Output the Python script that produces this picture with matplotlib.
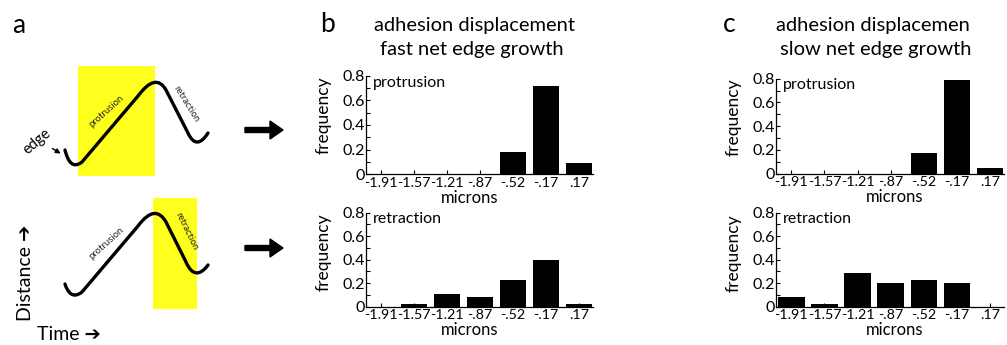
import matplotlib
matplotlib.use("Agg")
import matplotlib.pyplot as plt
from matplotlib.path import Path
from matplotlib.patches import PathPatch, Rectangle, FancyArrow

plt.rcParams['font.family'] = ['Lato', 'DejaVu Sans']

# histogram data
bins = ['-1.91', '-1.57', '-1.21', '-.87', '-.52', '-.17', '.17']
fast_protrusion = [0, 0, 0, 0, 0.18, 0.72, 0.09]
fast_retraction = [0, 0.025, 0.11, 0.083, 0.225, 0.395, 0.023]
slow_protrusion = [0, 0, 0, 0, 0.175, 0.79, 0.045]
slow_retraction = [0.085, 0.026, 0.284, 0.2, 0.23, 0.2, 0]

W, H = 1007, 345
fig = plt.figure(figsize=(W / 100, H / 100), dpi=100)


def px_axes(left, top, right, bottom):
    return fig.add_axes([left / W, (H - bottom) / H, (right - left) / W, (bottom - top) / H])


# overlay in pixel coordinates for the schematic and titles
ax0 = fig.add_axes([0, 0, 1, 1])
ax0.set_xlim(0, W)
ax0.set_ylim(H, 0)
ax0.axis('off')

yellow = '#ffff1e'
ax0.add_patch(Rectangle((78, 66), 77, 110, color=yellow, lw=0))
ax0.add_patch(Rectangle((153, 198), 44, 111, color=yellow, lw=0))

codes = [Path.MOVETO, Path.CURVE4, Path.CURVE4, Path.CURVE4, Path.LINETO,
         Path.CURVE4, Path.CURVE4, Path.CURVE4, Path.LINETO,
         Path.CURVE4, Path.CURVE4, Path.CURVE4]
top_curve = [(65, 150), (68, 162), (73, 169), (82, 162), (138, 96),
             (150, 80), (159, 78), (166, 90), (188, 133),
             (194, 146), (201, 144), (208, 133)]
bot_curve = [(65, 284), (68, 293), (73, 299), (82, 292), (138, 226),
             (150, 210), (159, 210), (166, 222), (186, 262),
             (192, 276), (200, 276), (208, 265)]
for pts in (top_curve, bot_curve):
    ax0.add_patch(PathPatch(Path(pts, codes), fill=False, lw=2.4, color='k',
                            capstyle='round'))

sm = dict(fontsize=6.8, ha='center', va='center', color='#222222')
ax0.text(106, 111, 'protrusion', rotation=42, **sm)
ax0.text(186, 104, 'retraction', rotation=-58, **sm)
ax0.text(106, 243, 'protrusion', rotation=42, **sm)
ax0.text(187, 231, 'retraction', rotation=-64, **sm)
ax0.text(37, 142, 'edge', rotation=40, fontsize=10.5, ha='center', va='center')
ax0.annotate('', xy=(63, 155), xytext=(50, 147),
             arrowprops=dict(arrowstyle='-|>', lw=1, color='k', mutation_scale=7))

for y in (130, 248):
    ax0.add_patch(FancyArrow(245, y, 38, 0, width=5, head_width=18,
                             head_length=13, color='k', length_includes_head=True))

ax0.text(26, 273, 'Distance \u2794', rotation=90, fontsize=14,
         ha='center', va='center')
ax0.text(37, 335, 'Time \u2794', fontsize=14, ha='left', va='center')

# panel letters and titles
ax0.text(12, 33, 'a', fontsize=19, ha='left', va='baseline')
ax0.text(320, 32, 'b', fontsize=19, ha='left', va='baseline')
ax0.text(723, 32, 'c', fontsize=19, ha='left', va='baseline')
ax0.text(474, 25, 'adhesion displacement', fontsize=14.5, ha='center', va='center')
ax0.text(472, 50, 'fast net edge growth', fontsize=14.5, ha='center', va='center')
ax0.text(873, 25, 'adhesion displacemen', fontsize=14.5, ha='center', va='center')
ax0.text(876, 50, 'slow net edge growth', fontsize=14.5, ha='center', va='center')

panels = [
    (px_axes(366, 76, 593, 174), fast_protrusion, 'protrusion', 0.6, 0.458),
    (px_axes(366, 212.7, 593, 306.7), fast_retraction, 'retraction', 0.58, 0.458),
    (px_axes(776, 78.7, 1004, 173.7), slow_protrusion, 'protrusion', 0.59, 0.52),
    (px_axes(776, 212.7, 1004, 306.7), slow_retraction, 'retraction', 0.57, 0.52),
]

for ax, vals, name, ylab_y, xlab_x in panels:
    x = range(len(bins))
    ax.bar(x, vals, width=0.8, color='k')
    ax.set_xlim(-0.46, 6.42)
    ax.set_ylim(0, 0.8)
    ax.set_xticks(list(x))
    ax.set_xticklabels(bins, fontsize=10.3)
    ax.set_yticks([0, 0.2, 0.4, 0.6, 0.8])
    ax.set_yticklabels(['0', '0.2', '0.4', '0.6', '0.8'], fontsize=11.5)
    ax.set_yticks([0.1, 0.3, 0.5, 0.7], minor=True)
    ax.tick_params(direction='in', length=3, width=0.8, pad=2)
    ax.tick_params(axis='y', pad=1)
    ax.tick_params(which='minor', direction='in', length=3, width=0.8)
    for s in ('top', 'right'):
        ax.spines[s].set_visible(False)
    for s in ('left', 'bottom'):
        ax.spines[s].set_linewidth(0.9)
    ax.set_ylabel('frequency', fontsize=12.5)
    ax.yaxis.set_label_coords(-0.15, ylab_y)
    ax.set_xlabel('microns', fontsize=12, labelpad=0)
    ax.xaxis.set_label_coords(xlab_x, -0.16)
    ax.text(0.03, 0.93, name, transform=ax.transAxes, fontsize=11.5,
            ha='left', va='center')

fig.savefig('out.png', dpi=100)
